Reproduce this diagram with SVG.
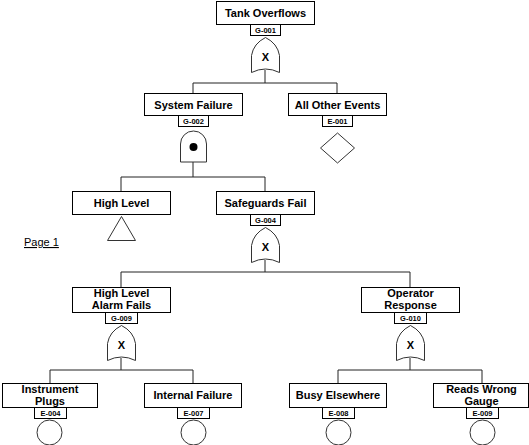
<svg xmlns="http://www.w3.org/2000/svg" width="529" height="445" viewBox="0 0 529 445">
<defs>
<style>
.box{fill:#fff;stroke:#000;stroke-width:1}
.lbl{fill:#fff;stroke:#000;stroke-width:1}
.t{font-family:"Liberation Sans",Arial,sans-serif;font-weight:bold;font-size:11px;fill:#000;text-anchor:middle}
.lt{font-family:"Liberation Sans",Arial,sans-serif;font-weight:bold;font-size:7.5px;fill:#000;text-anchor:middle}
.gate{fill:#fff;stroke:#333;stroke-width:1}
.gx{font-family:"Liberation Sans",Arial,sans-serif;font-weight:bold;font-size:11px;fill:#000;text-anchor:middle}
.c{fill:none;stroke:#222;stroke-width:1}
</style>
<path id="orgate" d="M-14,35 L-14,18 Q-12,6 0,0 Q12,6 14,18 L14,35 Q0,28 -14,35 Z"/>
</defs>
<rect width="529" height="445" fill="#fff"/>
<g id="connectors">
<path class="c" d="M265,70 V83 M193,83 H337 M193,83 V93 M337,83 V93"/>
<path class="c" d="M193,162 V177 M121,177 H265 M121,177 V191 M265,177 V191"/>
<path class="c" d="M265,260 V272 M121,272 H410 M121,272 V287 M410,272 V287"/>
<path class="c" d="M121,358 V370 M50,370 H193 M50,370 V384 M193,370 V384"/>
<path class="c" d="M410,358 V370 M338,370 H482 M338,370 V384 M482,370 V384"/>
</g>
<g id="G-001">
<rect class="box" x="216.5" y="1.5" width="98" height="23"/>
<text class="t" x="265.5" y="17">Tank Overflows</text>
<rect class="lbl" x="250.5" y="24.5" width="30" height="11"/>
<text class="lt" x="265.5" y="32.7">G-001</text>
<use href="#orgate" class="gate" transform="translate(265.5,37.5)"/>
<text class="gx" x="265.5" y="61">X</text>
</g>
<g id="G-002">
<rect class="box" x="144.5" y="93.5" width="98" height="22"/>
<text class="t" x="193.5" y="108.5">System Failure</text>
<rect class="lbl" x="178.5" y="115.5" width="30" height="11"/>
<text class="lt" x="193.5" y="123.7">G-002</text>
<path class="gate" d="M180.5,162 V144 A13,13 0 0 1 206.5,144 V162 Z"/>
<circle cx="193.5" cy="147" r="4" fill="#000"/>
</g>
<g id="E-001">
<rect class="box" x="288.5" y="93.5" width="98" height="22"/>
<text class="t" x="337.5" y="108.5">All Other Events</text>
<rect class="lbl" x="322.5" y="115.5" width="30" height="11"/>
<text class="lt" x="337.5" y="123.7">E-001</text>
<path class="gate" d="M337.5,133 L354.5,148 L337.5,163 L320.5,148 Z"/>
</g>
<g id="HighLevel">
<rect class="box" x="72.5" y="191.5" width="98" height="23"/>
<text class="t" x="121.5" y="207">High Level</text>
<path class="gate" d="M121.5,216.5 L135.5,240.5 L107.5,240.5 Z"/>
</g>
<g id="G-004">
<rect class="box" x="216.5" y="191.5" width="98" height="23"/>
<text class="t" x="265.5" y="207">Safeguards Fail</text>
<rect class="lbl" x="250.5" y="214.5" width="30" height="11"/>
<text class="lt" x="265.5" y="222.7">G-004</text>
<use href="#orgate" class="gate" transform="translate(265.5,227.5)"/>
<text class="gx" x="265.5" y="251">X</text>
</g>
<text x="24" y="246" font-family="'Liberation Sans',Arial,sans-serif" font-size="11" text-decoration="underline" fill="#000">Page 1</text>
<g id="G-009">
<rect class="box" x="72.5" y="287.5" width="98" height="25"/>
<text class="t" x="121.5" y="297">High Level</text>
<text class="t" x="121.5" y="309">Alarm Fails</text>
<rect class="lbl" x="105.5" y="312.5" width="32" height="11"/>
<text class="lt" x="121.5" y="320.7">G-009</text>
<use href="#orgate" class="gate" transform="translate(121.5,325.5)"/>
<text class="gx" x="121.5" y="349">X</text>
</g>
<g id="G-010">
<rect class="box" x="361.5" y="287.5" width="98" height="25"/>
<text class="t" x="410.5" y="297">Operator</text>
<text class="t" x="410.5" y="309">Response</text>
<rect class="lbl" x="394.5" y="312.5" width="32" height="11"/>
<text class="lt" x="410.5" y="320.7">G-010</text>
<use href="#orgate" class="gate" transform="translate(410.5,325.5)"/>
<text class="gx" x="410.5" y="349">X</text>
</g>
<g id="E-004">
<rect class="box" x="2.5" y="383.5" width="95" height="24"/>
<text class="t" x="50" y="393">Instrument</text>
<text class="t" x="50" y="405">Plugs</text>
<rect class="lbl" x="34.5" y="407.5" width="32" height="11"/>
<text class="lt" x="50.5" y="415.7">E-004</text>
<circle class="gate" cx="49.5" cy="432.5" r="12.5"/>
</g>
<g id="E-007">
<rect class="box" x="144.5" y="383.5" width="97" height="24"/>
<text class="t" x="193" y="399">Internal Failure</text>
<rect class="lbl" x="177.5" y="407.5" width="32" height="11"/>
<text class="lt" x="193.5" y="415.7">E-007</text>
<circle class="gate" cx="193.5" cy="432.5" r="12.5"/>
</g>
<g id="E-008">
<rect class="box" x="289.5" y="383.5" width="97" height="24"/>
<text class="t" x="338" y="399">Busy Elsewhere</text>
<rect class="lbl" x="322.5" y="407.5" width="32" height="11"/>
<text class="lt" x="338.5" y="415.7">E-008</text>
<circle class="gate" cx="338.5" cy="432.5" r="12.5"/>
</g>
<g id="E-009">
<rect class="box" x="433.5" y="383.5" width="95" height="24"/>
<text class="t" x="481.5" y="393">Reads Wrong</text>
<text class="t" x="481.5" y="405">Gauge</text>
<rect class="lbl" x="466.5" y="407.5" width="32" height="11"/>
<text class="lt" x="482.5" y="415.7">E-009</text>
<circle class="gate" cx="482.5" cy="432.5" r="12.5"/>
</g>
</svg>
